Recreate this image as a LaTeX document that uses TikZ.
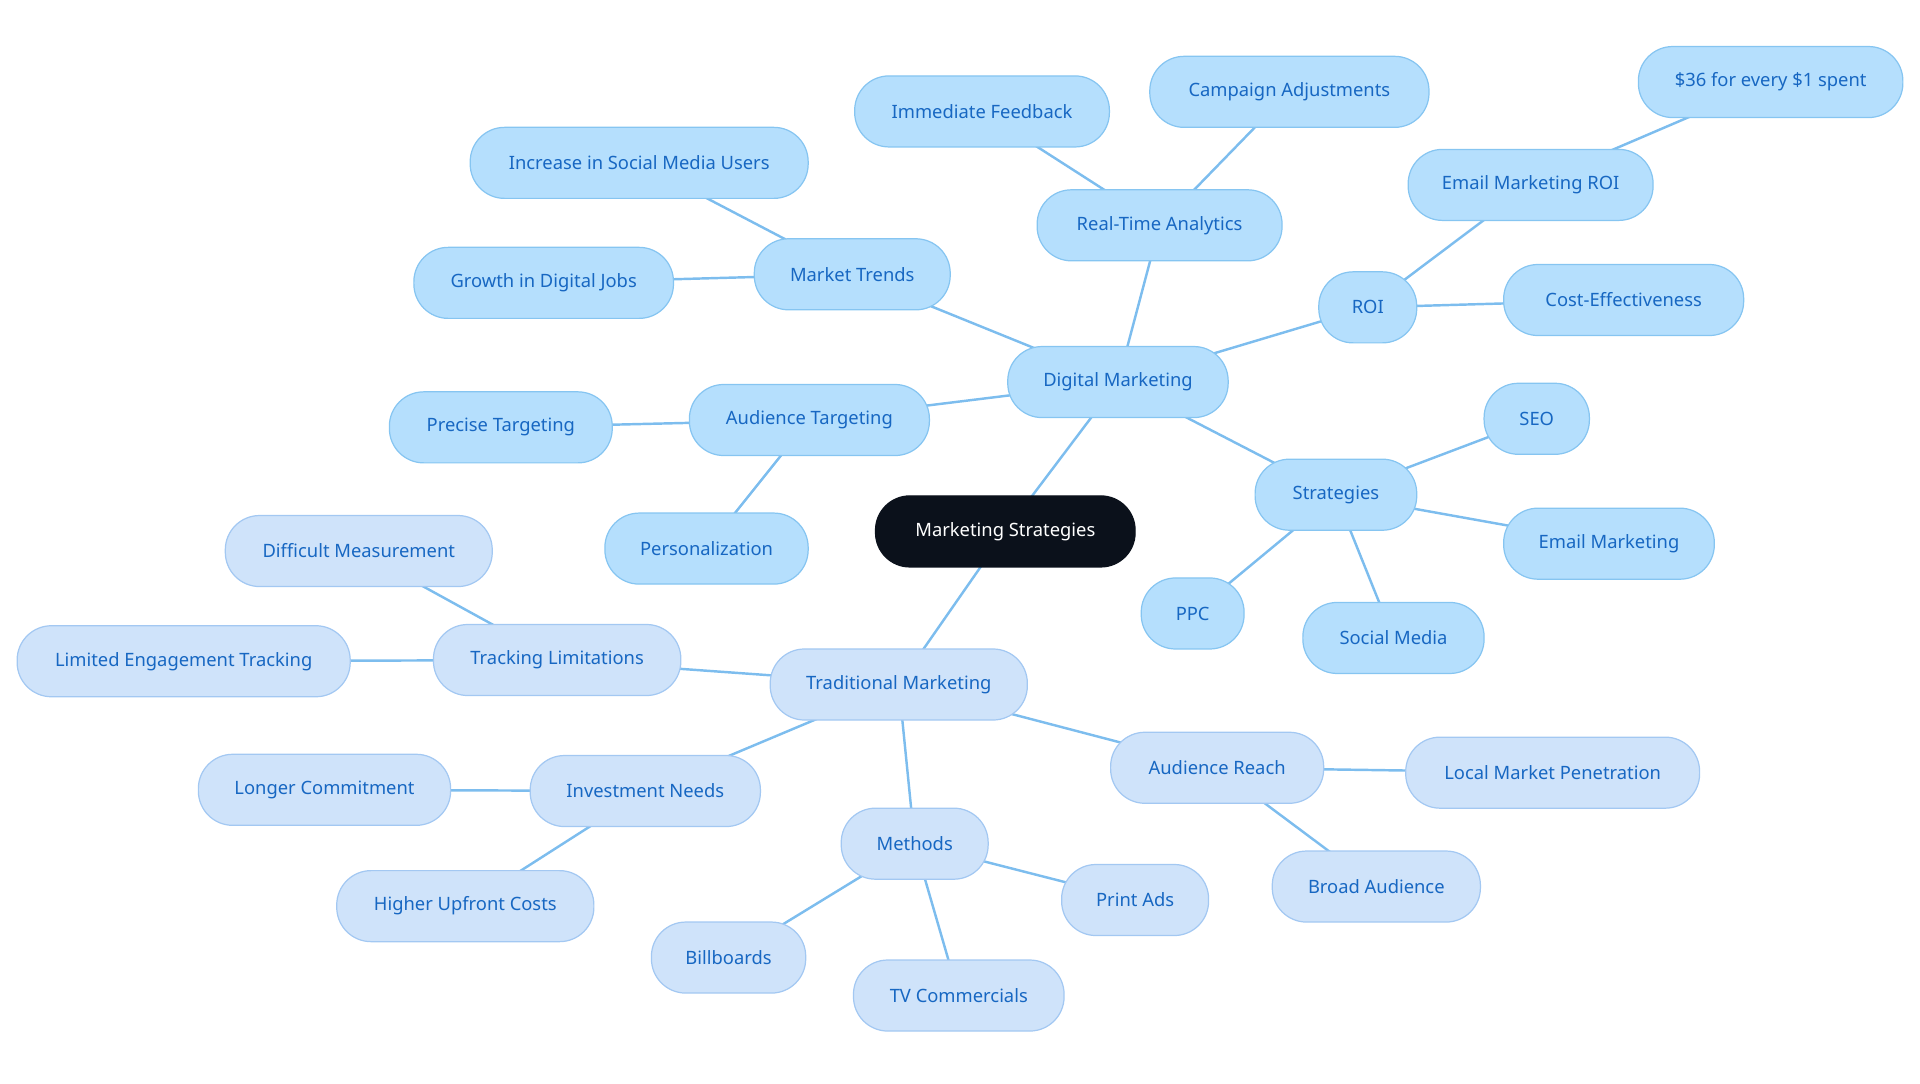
\documentclass[tikz,border=0pt]{standalone}
\usepackage{fontspec}
\setmainfont{Noto Sans}
\usetikzlibrary{backgrounds}
\definecolor{dfill}{HTML}{B5DFFD}
\definecolor{ddraw}{HTML}{86C5F1}
\definecolor{tfill}{HTML}{CFE3FA}
\definecolor{tdraw}{HTML}{A3C8F2}
\definecolor{txt}{HTML}{1767C2}
\definecolor{lnk}{HTML}{7DBDEE}
\definecolor{cen}{HTML}{0B111B}
\tikzset{
 base/.style={rounded corners=28pt,minimum height=58pt,inner sep=0pt,font=\fontsize{15}{18}\selectfont,line width=1pt},
 dn/.style={base,fill=dfill,draw=ddraw,text=txt},
 tn/.style={base,fill=tfill,draw=tdraw,text=txt},
 cn/.style={base,fill=cen,draw=cen,text=white},
 lk/.style={draw=lnk,line width=2pt},
}
\begin{document}
\begin{tikzpicture}[x=1pt,y=-1pt]
\useasboundingbox (0,0) rectangle (1568,884.5);
\node[cn,minimum width=212pt] (c) at (821,434) {Marketing Strategies};
\node[dn,minimum width=180pt] (dm) at (913,312) {Digital Marketing};
\node[tn,minimum width=210pt] (tm) at (734,559) {Traditional Marketing};
\node[dn,minimum width=160pt] (mt) at (696,224) {Market Trends};
\node[dn,minimum width=276pt] (isu) at (522,133) {Increase in Social Media Users};
\node[dn,minimum width=212pt] (gdj) at (444,231) {Growth in Digital Jobs};
\node[dn,minimum width=200pt] (rta) at (947,184) {Real-Time Analytics};
\node[dn,minimum width=208pt] (imf) at (802,91) {Immediate Feedback};
\node[dn,minimum width=228pt] (ca) at (1053,75) {Campaign Adjustments};
\node[dn,minimum width=80pt] (roi) at (1117,251) {ROI};
\node[dn,minimum width=200pt] (emr) at (1250,151) {Email Marketing ROI};
\node[dn,minimum width=216pt] (d36) at (1446,67) {\$36 for every \$1 spent};
\node[dn,minimum width=196pt] (ce) at (1326,245) {Cost-Effectiveness};
\node[dn,minimum width=196pt] (at) at (661,343) {Audience Targeting};
\node[dn,minimum width=182pt] (pt) at (409,349) {Precise Targeting};
\node[dn,minimum width=166pt] (pers) at (577,448) {Personalization};
\node[dn,minimum width=132pt] (st) at (1091,404) {Strategies};
\node[dn,minimum width=86pt] (seo) at (1255,342) {SEO};
\node[dn,minimum width=172pt] (em) at (1314,444) {Email Marketing};
\node[dn,minimum width=148pt] (sm) at (1138,521) {Social Media};
\node[dn,minimum width=84pt] (ppc) at (974,501) {PPC};
\node[tn,minimum width=202pt] (tl) at (455,539) {Tracking Limitations};
\node[tn,minimum width=218pt] (dme) at (293,450) {Difficult Measurement};
\node[tn,minimum width=272pt] (let) at (150,540) {Limited Engagement Tracking};
\node[tn,minimum width=188pt] (in) at (527,646) {Investment Needs};
\node[tn,minimum width=206pt] (lc) at (265,645) {Longer Commitment};
\node[tn,minimum width=210pt] (huc) at (380,740) {Higher Upfront Costs};
\node[tn,minimum width=120pt] (me) at (747,689) {Methods};
\node[tn,minimum width=126pt] (bb) at (595,782) {Billboards};
\node[tn,minimum width=172pt] (tv) at (783,813) {TV Commercials};
\node[tn,minimum width=120pt] (pa) at (927,735) {Print Ads};
\node[tn,minimum width=174pt] (ar) at (994,627) {Audience Reach};
\node[tn,minimum width=240pt] (lmp) at (1268,631) {Local Market Penetration};
\node[tn,minimum width=170pt] (ba) at (1124,724) {Broad Audience};
\begin{pgfonlayer}{background}
\foreach \a/\b in {c/dm,c/tm,dm/mt,mt/isu,mt/gdj,dm/rta,rta/imf,rta/ca,dm/roi,roi/emr,emr/d36,roi/ce,dm/at,at/pt,at/pers,dm/st,st/seo,st/em,st/sm,st/ppc,tm/tl,tl/dme,tl/let,tm/in,in/lc,in/huc,tm/me,me/bb,me/tv,me/pa,tm/ar,ar/lmp,ar/ba}
  \draw[lk] (\a.center) -- (\b.center);
\end{pgfonlayer}
\end{tikzpicture}
\end{document}
